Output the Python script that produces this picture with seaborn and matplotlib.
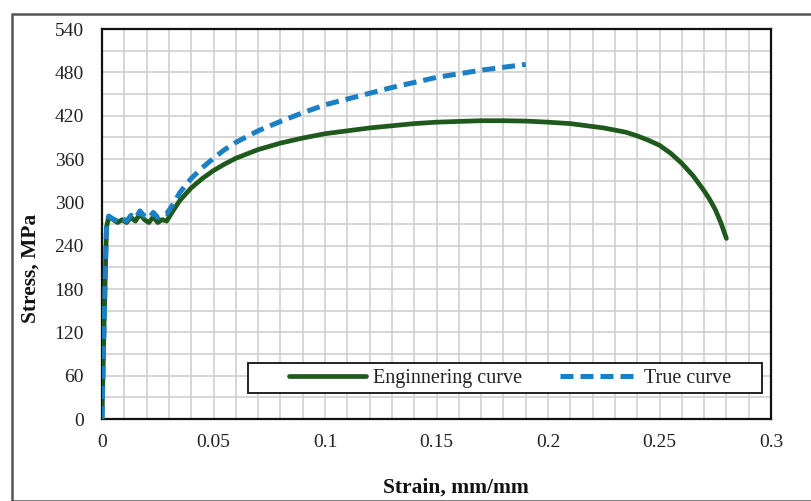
import numpy as np
import pandas as pd
import matplotlib
matplotlib.use("Agg")
import matplotlib.pyplot as plt
import seaborn as sns
from matplotlib.patches import Rectangle

# Engineering curve (strain, stress in MPa)
eng_strain = [0.0, 0.001, 0.002, 0.003, 0.005, 0.007, 0.009, 0.011, 0.013, 0.015,
              0.017, 0.019, 0.021, 0.023, 0.025, 0.027, 0.029, 0.032, 0.035, 0.04,
              0.045, 0.05, 0.055, 0.06, 0.065, 0.07, 0.08, 0.09, 0.10, 0.11, 0.12,
              0.13, 0.14, 0.15, 0.16, 0.17, 0.18, 0.19, 0.20, 0.21, 0.215, 0.22,
              0.225, 0.23, 0.235, 0.24, 0.245, 0.25, 0.255, 0.26, 0.265, 0.27,
              0.2725, 0.275, 0.2775, 0.28]
eng_stress = [0, 140, 265, 280, 276, 272, 276, 272, 279, 274,
              284, 276, 272, 280, 272, 276, 274, 289, 303, 320,
              333, 344, 353, 361, 367, 373, 382, 389, 395, 399, 403,
              406, 409, 411, 412, 413, 413, 412.5, 411, 409, 407, 405,
              403, 400, 397, 392, 386, 379, 368, 354, 337, 316,
              304, 290, 272, 250]

# True curve
true_strain = [0.0, 0.001, 0.002, 0.003, 0.005, 0.007, 0.009, 0.011, 0.013, 0.015,
               0.017, 0.019, 0.021, 0.023, 0.025, 0.027, 0.029, 0.032, 0.035, 0.04,
               0.045, 0.05, 0.055, 0.06, 0.065, 0.07, 0.08, 0.09, 0.10, 0.11, 0.12,
               0.13, 0.14, 0.15, 0.16, 0.17, 0.18, 0.19]
true_stress = [0, 140, 266, 281, 277, 274, 278, 274, 282, 278,
               288, 281, 278, 286, 279, 284, 284, 298, 314, 333,
               348, 361, 373, 383, 391, 399, 412, 424, 435, 443, 451,
               459, 466, 473, 478, 483, 487, 491]

x_ticks = [0, 0.05, 0.1, 0.15, 0.2, 0.25, 0.3]
x_tick_labels = ["0", "0.05", "0.1", "0.15", "0.2", "0.25", "0.3"]
y_ticks = [0, 60, 120, 180, 240, 300, 360, 420, 480, 540]

sns.set_theme(style="white")
plt.rcParams['font.family'] = ['Liberation Serif', 'DejaVu Serif']

W, H = 811, 501
L, R, T, B = 102, 771, 29, 419
AW, AH = R - L, B - T
fig = plt.figure(figsize=(W / 100, H / 100), dpi=100)
ax = fig.add_axes([L / W, 1 - B / H, AW / W, AH / H])

# outer chart frame
fig.patches.append(Rectangle((11.5 / W, 0), 1.0, 1 - 14 / H, transform=fig.transFigure,
                             fill=False, edgecolor="#555555", linewidth=1.8, zorder=0))

eng_df = pd.DataFrame({"strain": eng_strain, "stress": eng_stress})
true_df = pd.DataFrame({"strain": true_strain, "stress": true_stress})

sns.lineplot(data=eng_df, x="strain", y="stress", ax=ax, color="#1f5a1c",
             linewidth=3.4, label="Enginnering curve", sort=False, zorder=3)
sns.lineplot(data=true_df, x="strain", y="stress", ax=ax, color="#1a7fc4",
             linewidth=3.6, label="True curve", sort=False, zorder=4,
             dashes=False)
ax.lines[0].set_solid_joinstyle("round")
ax.lines[1].set_dashes((2.6, 1.4))

ax.set_xlim(0, 0.3)
ax.set_ylim(0, 540)
ax.set_xticks(x_ticks)
ax.set_xticklabels(x_tick_labels)
ax.set_yticks(y_ticks)
ax.set_xticks(np.arange(0, 0.3001, 0.01), minor=True)
ax.set_yticks(np.arange(0, 541, 30), minor=True)
ax.grid(True, which="both", color="#d0d0d0", linewidth=1.2)
ax.set_axisbelow(True)
ax.tick_params(axis="both", which="both", length=0, labelsize=14, colors="#222222")
ax.tick_params(axis="x", pad=11)
ax.tick_params(axis="y", pad=13)
for s in ax.spines.values():
    s.set_visible(True)
    s.set_color("#111111")
    s.set_linewidth(1.6)

ax.set_xlabel("Strain, mm/mm", fontsize=15.5, fontweight="bold", color="#111111")
ax.set_ylabel("Stress, MPa", fontsize=15.5, fontweight="bold", color="#111111")
ax.xaxis.set_label_coords((456 - L) / AW, -(478 - B) / AH)
ax.yaxis.set_label_coords(-(L - 41) / AW, (B - 268) / AH)

# legend box
ax.add_patch(Rectangle(((248 - L) / AW, (B - 393) / AH), 514 / AW, 30 / AH,
                       transform=ax.transAxes, facecolor="white",
                       edgecolor="#222222", linewidth=1.4, zorder=5))

leg = ax.legend(loc="center left",
                bbox_to_anchor=((289 - L) / AW, (B - 378) / AH),
                ncol=2, frameon=False, fontsize=14.5, handlelength=3.8,
                borderaxespad=0, borderpad=0, columnspacing=1.9,
                handletextpad=0.35)
leg.set_zorder(6)
for t in leg.get_texts():
    t.set_color("#222222")

fig.savefig("out.png", dpi=100)
